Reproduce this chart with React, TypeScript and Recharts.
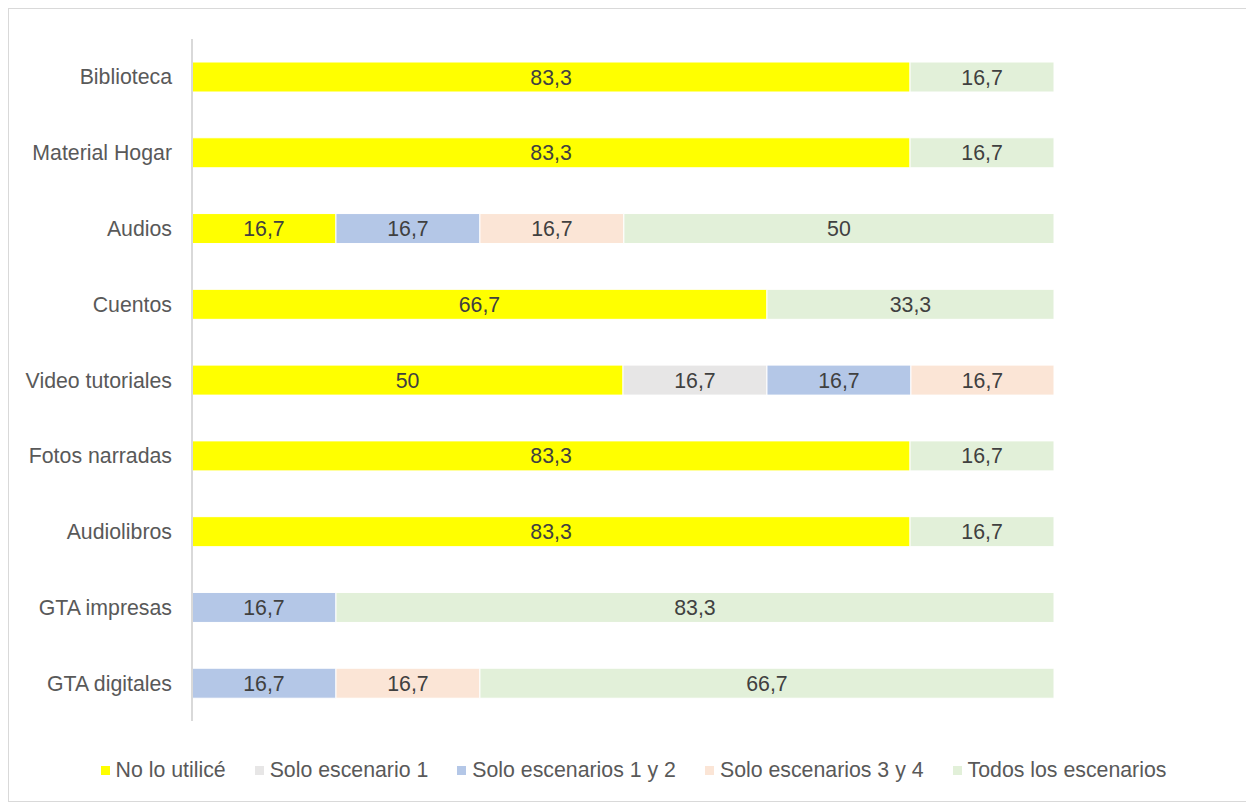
import { BarChart, Bar, XAxis, YAxis, Legend, LabelList } from 'recharts'

// categories top to bottom
const categories = ['Biblioteca', 'Material Hogar', 'Audios', 'Cuentos', 'Video tutoriales', 'Fotos narradas', 'Audiolibros', 'GTA impresas', 'GTA digitales']

const noLoUtilice = [83.3, 83.3, 16.7, 66.7, 50, 83.3, 83.3, 0, 0]
const soloEscenario1 = [0, 0, 0, 0, 16.7, 0, 0, 0, 0]
const soloEscenarios12 = [0, 0, 16.7, 0, 16.7, 0, 0, 16.7, 16.7]
const soloEscenarios34 = [0, 0, 16.7, 0, 16.7, 0, 0, 0, 16.7]
const todosEscenarios = [16.7, 16.7, 50, 33.3, 0, 16.7, 16.7, 83.3, 66.7]

const seriesNames = ['No lo utilicé', 'Solo escenario 1', 'Solo escenarios 1 y 2', 'Solo escenarios 3 y 4', 'Todos los escenarios']
const colors = ['#FFFF00', '#E7E6E6', '#B4C7E7', '#FBE5D6', '#E2F0D9']

const data = categories.map((name, i) => ({
  name,
  s0: noLoUtilice[i],
  s1: soloEscenario1[i],
  s2: soloEscenarios12[i],
  s3: soloEscenarios34[i],
  s4: todosEscenarios[i],
}))

const fmt = (v: any) => (v ? String(v).replace('.', ',') : '')

const renderLegend = () => (
  <div style={{ display: 'flex', justifyContent: 'center', gap: 29, fontSize: 21.3, color: '#595959', height: 24, alignItems: 'center', paddingLeft: 8 }}>
    {seriesNames.map((n, i) => (
      <div key={n} style={{ display: 'flex', alignItems: 'center' }}>
        <span style={{ width: 9, height: 9, background: colors[i], marginRight: 6, display: 'inline-block' }} />
        <span>{n}</span>
      </div>
    ))}
  </div>
)

export default function App() {
  return (
    <div style={{ width: 1243, height: 794, boxSizing: 'border-box', border: '1px solid #d9d9d9', fontFamily: '"Liberation Sans", Arial, sans-serif', background: '#fff' }}>
      <BarChart
        width={1241}
        height={792}
        data={data}
        layout="vertical"
        margin={{ top: 30, right: 196, left: 0, bottom: 56 }}
        barSize={30}
      >
        <XAxis type="number" domain={[0, 100]} allowDataOverflow hide />
        <YAxis
          type="category"
          dataKey="name"
          width={183}
          axisLine={{ stroke: '#d9d9d9', strokeWidth: 2 }}
          tickLine={false}
          tickMargin={14}
          tick={{ fill: '#595959', fontSize: 21.3 }}
        />
        <Legend content={renderLegend} wrapperStyle={{ bottom: 19, left: 0, width: 1241 }} />
        {['s0', 's1', 's2', 's3', 's4'].map((k, i) => (
          <Bar key={k} dataKey={k} name={seriesNames[i]} stackId="a" fill={colors[i]} stroke="#fff" strokeWidth={1} isAnimationActive={false}>
            <LabelList dataKey={k} position="center" formatter={fmt} fill="#404040" fontSize={21.3} />
          </Bar>
        ))}
      </BarChart>
    </div>
  )
}
